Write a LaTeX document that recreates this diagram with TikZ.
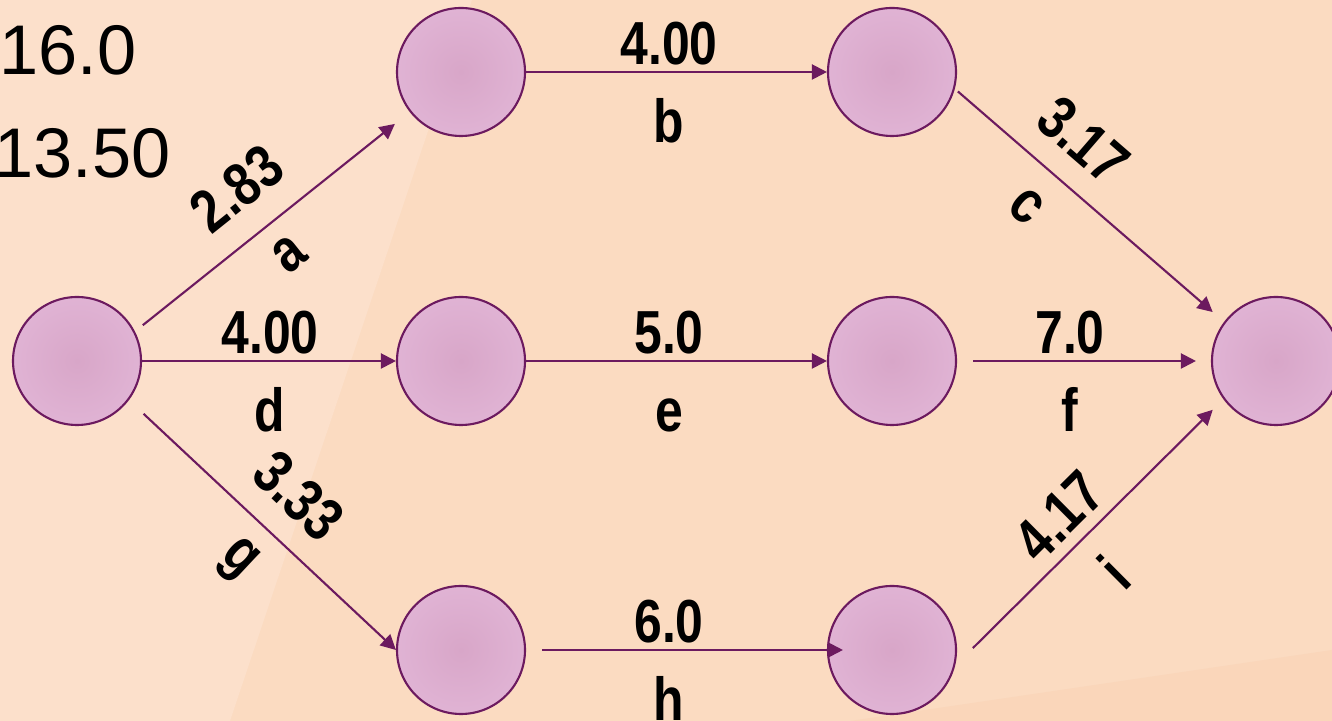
\documentclass[tikz,border=0pt]{standalone}
\usepackage{fontspec}
\usepackage{tikz}
\usetikzlibrary{arrows.meta}
\newfontfamily\edgefont{Liberation Sans}[FakeStretch=0.82]
\newfontfamily\cornerfont{Liberation Sans}
\definecolor{bgpeach}{HTML}{FBDBC1}
\definecolor{bglight}{HTML}{FCE0CB}
\definecolor{bgdark}{HTML}{FAD6BA}
\definecolor{nodeline}{HTML}{6C1A5F}
\definecolor{nodeinner}{HTML}{D8A6C8}
\definecolor{nodeouter}{HTML}{E8C0E0}
\pgfdeclareradialshading{nodeglow}{\pgfpoint{0bp}{0bp}}{color(0bp)=(nodeinner); color(50bp)=(nodeouter)}
\tikzset{
  event/.style={circle, draw=nodeline, line width=0.6pt, shading=nodeglow,
    minimum size=12.8mm, inner sep=0pt},
  task/.style={draw=nodeline, line width=0.6pt, -{Triangle[length=4.3pt,width=4.3pt]}},
  wt/.style={font=\edgefont\bfseries\fontsize{17.3}{20}\selectfont, inner sep=0pt, sloped},
  lbl/.style={font=\edgefont\bfseries\fontsize{17.3}{20}\selectfont, inner sep=0pt,
    text height=12.2pt, text depth=0pt, sloped}
}

\begin{document}
\begin{tikzpicture}[x=0.1mm, y=0.1mm]
\useasboundingbox (0,0) rectangle (1332,721);
\clip (0,0) rectangle (1332,721);
% background
\fill[bgpeach] (0,0) rectangle (1332,721);
\fill[bglight] (0,721) -- (472,721) -- (230,0) -- (0,0) -- cycle;
\fill[bgdark] (850,0) -- (1332,71) -- (1332,0) -- cycle;
% totals
\node[font=\cornerfont\fontsize{20}{24}\selectfont, anchor=base west, inner sep=0pt] (total) at (-1,646) {16.0};
\node[font=\cornerfont\fontsize{20}{24}\selectfont, anchor=base west, inner sep=0pt] (crit) at (-6,543) {13.50};
% events
\node[event] (src)  at (77,360)   {};
\node[event] (up1)  at (461,649)  {};
\node[event] (up2)  at (892,649)  {};
\node[event] (mid1) at (461,360)  {};
\node[event] (mid2) at (892,360)  {};
\node[event] (snk)  at (1276,360) {};
\node[event] (low1) at (461,71)   {};
\node[event] (low2) at (892,71)   {};
% activities
\draw[task, shorten <=1mm, shorten >=1.9mm] (src.27) -- (up1.218)
  node[wt, pos=0.48, above=7.3pt] {2.83} node[lbl, pos=0.48, below=2.5pt] {a};
\draw[task] (src.east) -- (mid1.west)
  node[wt, pos=0.504, above=1.7pt] {4.00} node[lbl, pos=0.504, below=7.7pt] {d};
\draw[task, shorten <=2mm] (src.-37) -- (low1.west)
  node[wt, pos=0.518, above=6.7pt] {3.33} node[lbl, pos=0.518, below=2.6pt] {g};
\draw[task] (up1.east) -- (up2.west)
  node[wt, pos=0.475, above=1.7pt] {4.00} node[lbl, pos=0.475, below=7.7pt] {b};
\draw[task] (mid1.east) -- (mid2.west)
  node[wt, pos=0.475, above=1.7pt] {5.0} node[lbl, pos=0.475, below=7.7pt] {e};
\draw[task, shorten <=1.6mm, shorten >=-1.6mm] (low1.east) -- (low2.west)
  node[wt, pos=0.475, above=1.7pt] {6.0} node[lbl, pos=0.475, below=7.7pt] {h};
\draw[task, shorten <=0.4mm, shorten >=1.5mm] (up2.-15) -- (snk.143)
  node[wt, pos=0.368, above=6.4pt] {3.17} node[lbl, pos=0.368, below=4.1pt] {c};
\draw[task, shorten <=1.6mm, shorten >=1.5mm] (mid2.east) -- (snk.west)
  node[wt, pos=0.445, above=1.7pt] {7.0} node[lbl, pos=0.445, below=7.7pt] {f};
\draw[task, shorten <=2.5mm, shorten >=1.5mm] (low2.-14) -- (snk.216)
  node[wt, pos=0.474, above=3.1pt] {4.17} node[lbl, pos=0.474, below=6.7pt] {i};
\end{tikzpicture}
\end{document}
